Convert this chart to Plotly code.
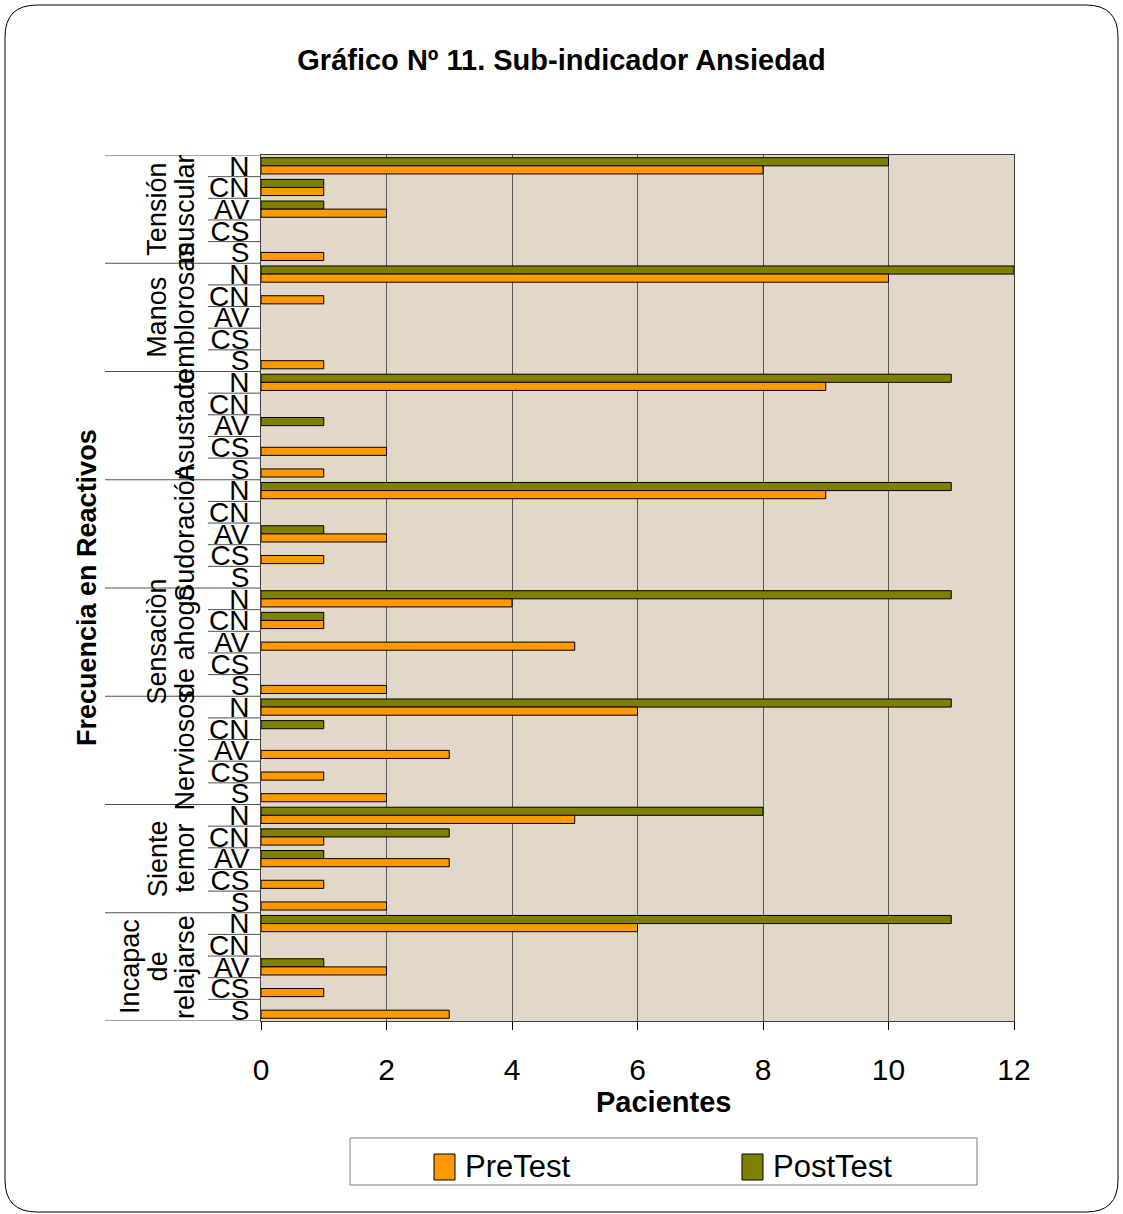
import plotly.graph_objects as go

# ---------------- data ----------------
groups = [["Tensión", "muscular"], ["Manos", "temblorosas"], ["Asustado"], ["Sudoración"],
          ["Sensaciòn", "de ahogo"], ["Nerviosos"], ["Siente", "temor"],
          ["Incapac", "de", "relajarse"]]
cats = ["N", "CN", "AV", "CS", "S"]
pre_test = [
    [8, 1, 2, 0, 1],
    [10, 1, 0, 0, 1],
    [9, 0, 0, 2, 1],
    [9, 0, 2, 1, 0],
    [4, 1, 5, 0, 2],
    [6, 0, 3, 1, 2],
    [5, 1, 3, 1, 2],
    [6, 0, 2, 1, 3],
]
post_test = [
    [10, 1, 1, 0, 0],
    [12, 0, 0, 0, 0],
    [11, 0, 1, 0, 0],
    [11, 0, 1, 0, 0],
    [11, 1, 0, 0, 0],
    [11, 1, 0, 0, 0],
    [8, 3, 1, 0, 0],
    [11, 0, 1, 0, 0],
]
series_names = ["PreTest", "PostTest"]
series_colors = ["#FF9900", "#808000"]
x_ticks = [0, 2, 4, 6, 8, 10, 12]

# ---------------- geometry ----------------
W, H = 1123, 1214
L, R, T, B = 261, 1014, 155, 1021
PW, PH = R - L, B - T


def px(p):
    return (p - L) / PW


def py(p):
    return (B - p) / PH


NG, NC = len(groups), len(cats)
pos = [g * NC + c for g in range(NG) for c in range(NC)]
ticktext = [c for g in range(NG) for c in cats]


def flat(arr):
    return [v if v else None for row in arr for v in row]


SANS = "Liberation Sans, Arial, sans-serif"

fig = go.Figure()
# PostTest first so that it sits above PreTest in each category (reversed y axis)
for name, color, data in [(series_names[1], series_colors[1], post_test),
                          (series_names[0], series_colors[0], pre_test)]:
    fig.add_trace(go.Bar(
        name=name, y=pos, x=flat(data), orientation="h",
        marker=dict(color=color, line=dict(color="black", width=1)),
    ))

shapes = []
# category boundary ticks and group dividers
for k in range(NG * NC + 1):
    yv = k - 0.5
    x0 = px(105) if k % NC == 0 else px(208)
    shapes.append(dict(type="line", xref="paper", yref="y", x0=x0, x1=0, y0=yv, y1=yv,
                       line=dict(color="#505050", width=1)))

# legend frame
shapes.append(dict(type="rect", xref="paper", yref="paper", x0=px(350), x1=px(977),
                   y0=py(1185), y1=py(1138), line=dict(color="#808080", width=1),
                   fillcolor="white", layer="below"))

annotations = []
# custom legend entries
for i, (name, color) in enumerate(zip(series_names, series_colors)):
    sx = 434 + i * 308
    shapes.append(dict(type="rect", xref="paper", yref="paper", x0=px(sx), x1=px(sx + 21),
                       y0=py(1180), y1=py(1154), line=dict(color="black", width=1),
                       fillcolor=color))
    annotations.append(dict(text=name, xref="paper", yref="paper", x=px(sx + 29), y=py(1166),
                            xanchor="left", yanchor="middle", showarrow=False,
                            font=dict(family=SANS, size=31, color="black")))

# outer rounded frame
fx0, fx1, fy0, fy1, r = 5, 1118, 5, 1212, 32
path = (f"M {px(fx0 + r)},{py(fy0)} L {px(fx1 - r)},{py(fy0)} "
        f"Q {px(fx1)},{py(fy0)} {px(fx1)},{py(fy0 + r)} "
        f"L {px(fx1)},{py(fy1 - r)} Q {px(fx1)},{py(fy1)} {px(fx1 - r)},{py(fy1)} "
        f"L {px(fx0 + r)},{py(fy1)} Q {px(fx0)},{py(fy1)} {px(fx0)},{py(fy1 - r)} "
        f"L {px(fx0)},{py(fy0 + r)} Q {px(fx0)},{py(fy0)} {px(fx0 + r)},{py(fy0)} Z")
shapes.append(dict(type="path", xref="paper", yref="paper", path=path,
                   line=dict(color="black", width=1)))

for g, lines in enumerate(groups):
    n = len(lines)
    for i, line in enumerate(lines):
        annotations.append(dict(
            text=line, xref="paper", yref="y", x=px(185 - (n - 1 - i) * 27.5),
            y=g * NC + (NC - 1) / 2,
            xanchor="center", yanchor="middle", textangle=-90, showarrow=False,
            font=dict(family=SANS, size=27, color="black"),
        ))
annotations.append(dict(
    text="<b>Frecuencia en Reactivos</b>", xref="paper", yref="paper", x=px(87), y=py(588),
    xanchor="center", yanchor="middle", textangle=-90, showarrow=False,
    font=dict(family=SANS, size=27, color="black"),
))
annotations.append(dict(
    text="<b>Pacientes</b>", xref="paper", yref="paper", x=px(663), y=py(1102),
    xanchor="center", yanchor="middle", showarrow=False,
    font=dict(family=SANS, size=29, color="black"),
))

fig.update_layout(
    width=W, height=H,
    margin=dict(l=L, r=W - R, t=T, b=H - B, pad=0),
    paper_bgcolor="white", plot_bgcolor="#E1D8CA",
    barmode="group", bargap=0.25, bargroupgap=0,
    title=dict(text="<b>Gráfico Nº 11. Sub-indicador Ansiedad</b>", x=0.5, xanchor="center",
               y=1 - 60 / H, yanchor="middle", yref="container",
               font=dict(family=SANS, size=29, color="black")),
    xaxis=dict(range=[0, 12], tickvals=x_ticks, ticks="outside", ticklen=8, tickcolor="black",
               showgrid=True, gridcolor="#5a5a5a", gridwidth=1, zeroline=False,
               showline=True, linecolor="#404040", linewidth=1, mirror=True,
               tickfont=dict(family=SANS, size=30, color="black"), ticklabelstandoff=14),
    yaxis=dict(range=[NG * NC - 0.5, -0.5], tickvals=pos, ticktext=ticktext, ticks="",
               showgrid=False, zeroline=False, showline=True, linecolor="#404040",
               linewidth=1, mirror=True, ticklabelstandoff=5,
               tickfont=dict(family=SANS, size=28, color="black")),
    shapes=shapes, annotations=annotations,
    showlegend=False,
)

fig.write_html("out.html", config={"displayModeBar": False},
               post_script="document.body.style.margin='0';")
